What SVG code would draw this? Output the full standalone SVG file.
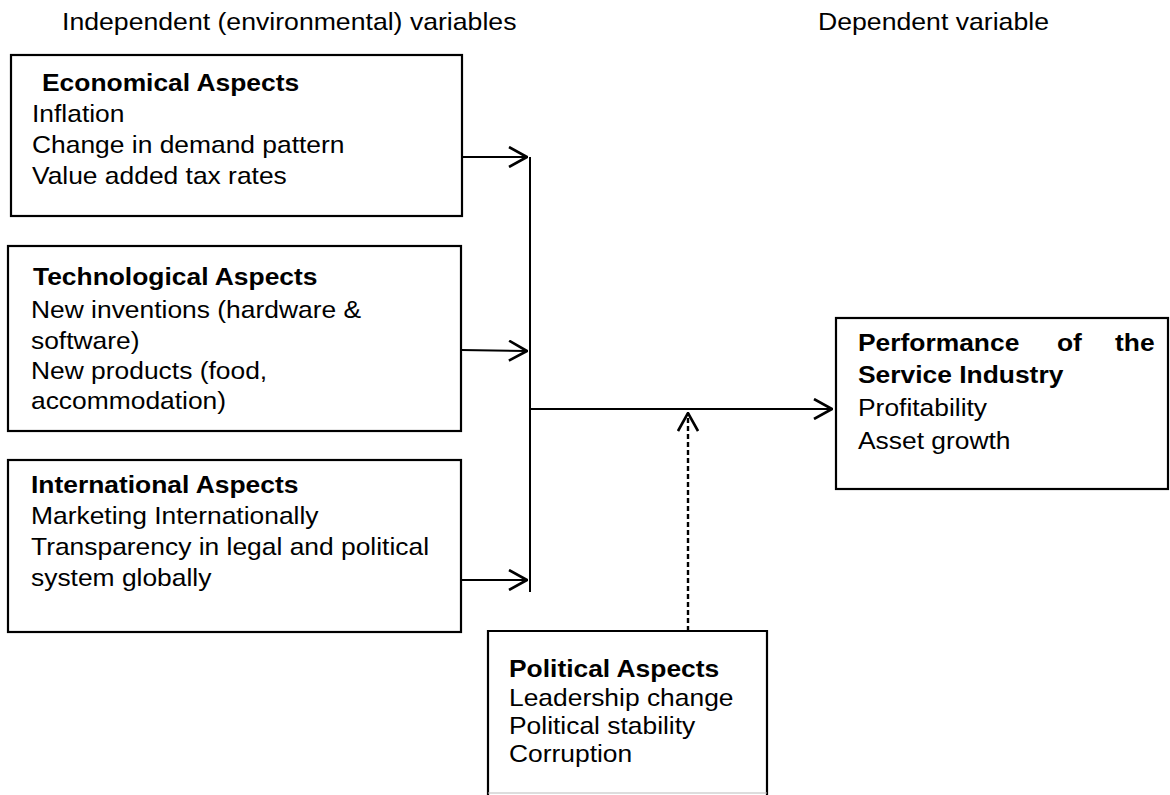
<svg xmlns="http://www.w3.org/2000/svg" width="1170" height="795" viewBox="0 0 1170 795">
<style>
.box{fill:#fff;stroke:#000;stroke-width:2.2}
.t{font-family:"Liberation Sans",Arial,sans-serif;font-size:24px;fill:#000}
.b{font-weight:bold}
.ln{stroke:#000;stroke-width:2;fill:none}
.dash{stroke:#000;stroke-width:2.4;fill:none;stroke-dasharray:5,3}
</style>
<defs>
<marker id="arr" viewBox="0 0 20 22" refX="19" refY="11" markerWidth="20" markerHeight="22" markerUnits="userSpaceOnUse" orient="auto">
<path d="M1,1 L19,11 L1,21" fill="none" stroke="#000" stroke-width="2.6"/>
</marker>
</defs>
<rect width="1170" height="795" fill="#fff"/>
<text class="t" transform="translate(62,30) scale(1.11,1)">Independent (environmental) variables</text>
<text class="t" transform="translate(818,30) scale(1.11,1)">Dependent variable</text>
<g id="economical">
<rect class="box" x="11" y="55" width="451" height="161"/>
<text class="t b" transform="translate(42,91) scale(1.1,1)">Economical Aspects</text>
<text class="t" transform="translate(32,122) scale(1.1,1)">Inflation</text>
<text class="t" transform="translate(32,153) scale(1.1,1)">Change in demand pattern</text>
<text class="t" transform="translate(32,184) scale(1.1,1)">Value added tax rates</text>
</g>
<g id="technological">
<rect class="box" x="8" y="246" width="453" height="185"/>
<text class="t b" transform="translate(33,285) scale(1.1,1)">Technological Aspects</text>
<text class="t" transform="translate(31,318) scale(1.1,1)">New inventions (hardware &amp;</text>
<text class="t" transform="translate(31,349) scale(1.1,1)">software)</text>
<text class="t" transform="translate(31,379) scale(1.1,1)">New products (food,</text>
<text class="t" transform="translate(31,409) scale(1.1,1)">accommodation)</text>
</g>
<g id="international">
<rect class="box" x="8" y="460" width="453" height="172"/>
<text class="t b" transform="translate(31,493) scale(1.1,1)">International Aspects</text>
<text class="t" transform="translate(31,524) scale(1.1,1)">Marketing Internationally</text>
<text class="t" transform="translate(31,555) scale(1.1,1)">Transparency in legal and political</text>
<text class="t" transform="translate(31,586) scale(1.1,1)">system globally</text>
</g>
<g id="performance">
<rect class="box" x="836" y="318" width="332" height="171"/>
<text class="t b" transform="translate(858,351) scale(1.1,1)">Performance</text>
<text class="t b" transform="translate(1057,351) scale(1.1,1)">of</text>
<text class="t b" transform="translate(1115,351) scale(1.1,1)">the</text>
<text class="t b" transform="translate(858,383) scale(1.1,1)">Service Industry</text>
<text class="t" transform="translate(858,416) scale(1.1,1)">Profitability</text>
<text class="t" transform="translate(858,449) scale(1.1,1)">Asset growth</text>
</g>
<g id="political">
<path class="box" d="M488,800 L488,631 L767,631 L767,800"/>
<line x1="488" y1="793" x2="767" y2="793" stroke="#bbb" stroke-width="1"/>
<text class="t b" transform="translate(509,677) scale(1.1,1)">Political Aspects</text>
<text class="t" transform="translate(509,706) scale(1.1,1)">Leadership change</text>
<text class="t" transform="translate(509,734) scale(1.1,1)">Political stability</text>
<text class="t" transform="translate(509,762) scale(1.1,1)">Corruption</text>
</g>
<g id="connectors">
<line class="ln" x1="530" y1="157" x2="530" y2="592"/>
<line class="ln" x1="462" y1="157" x2="527" y2="157" marker-end="url(#arr)"/>
<line class="ln" x1="461" y1="350" x2="527" y2="351" marker-end="url(#arr)"/>
<line class="ln" x1="461" y1="580" x2="527" y2="580" marker-end="url(#arr)"/>
<line class="ln" x1="530" y1="409" x2="832" y2="409" marker-end="url(#arr)"/>
<line class="dash" x1="688" y1="631" x2="688" y2="413" marker-end="url(#arr)"/>
</g>
</svg>
